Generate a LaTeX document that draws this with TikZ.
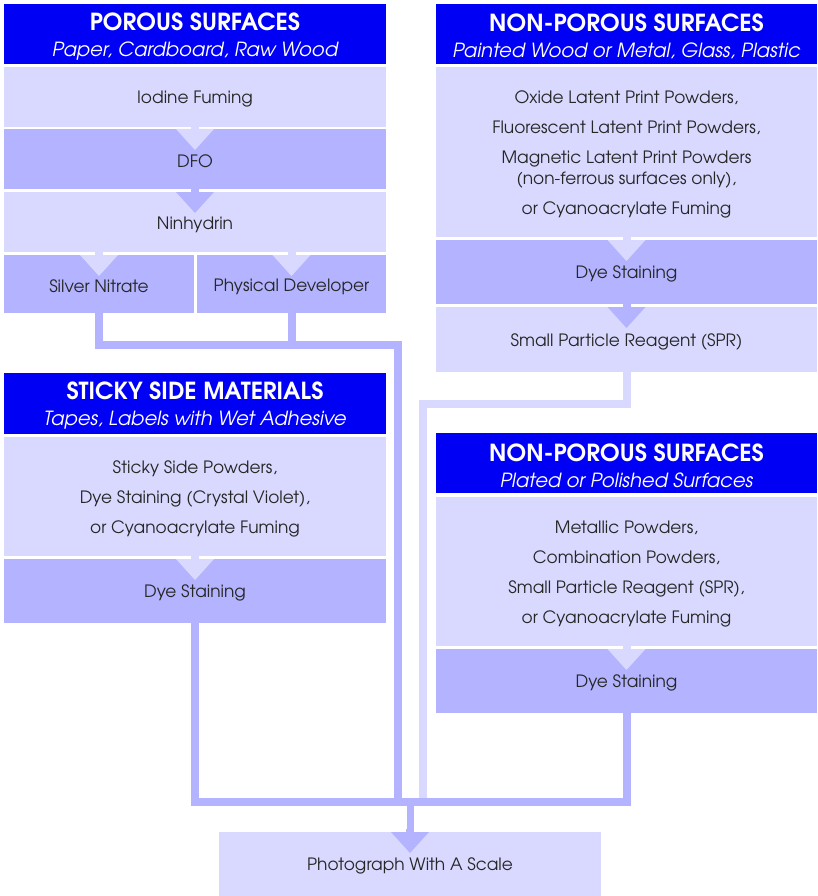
\documentclass[tikz,border=0pt]{standalone}
\usepackage{fontspec}
\setmainfont{TeX Gyre Adventor}

\definecolor{hdrblue}{RGB}{0,0,245}
\definecolor{boxlight}{RGB}{217,217,255}
\definecolor{boxdark}{RGB}{179,179,255}

\tikzset{
  box/.style={anchor=north west, inner sep=0pt, outer sep=0pt, align=center,
    text=black!85, font=\fontsize{17}{30}\selectfont},
  hdrbox/.style={box, fill=hdrblue, text=white, minimum width=382pt,
    minimum height=60pt, font=\fontsize{23.5}{26}\selectfont},
  litebox/.style={box, fill=boxlight},
  darkbox/.style={box, fill=boxdark},
  pipe/.style={draw=boxdark, line width=8pt},
  litepipe/.style={draw=boxlight, line width=8pt},
}
% struts that push the first line a little down
\newcommand{\lift}{\rule{0pt}{17.5pt}}
\newcommand{\hlift}{\rule{0pt}{22.5pt}}
\newcommand{\subhdr}[1]{{\fontsize{19.5}{26}\selectfont\itshape #1}}

\begin{document}
\begin{tikzpicture}[x=1pt, y=-1pt]
  \useasboundingbox (0,0) rectangle (817,896);

  % porous column
  \node[hdrbox] (phead) at (4,4) {\hlift\textbf{POROUS SURFACES}\\\subhdr{Paper, Cardboard, Raw Wood}};
  \node[litebox, minimum width=382pt, minimum height=60pt] (iodine) at (4,67) {\lift Iodine Fuming};
  \node[darkbox, minimum width=382pt, minimum height=60pt] (dfo) at (4,129) {\lift DFO};
  \node[litebox, minimum width=382pt, minimum height=60pt] (ninhyd) at (4,192) {\lift Ninhydrin};
  \node[darkbox, minimum width=190pt, minimum height=58pt] (silver) at (4,255) {\lift Silver Nitrate};
  \node[darkbox, minimum width=189pt, minimum height=58pt] (physdev) at (197,255) {\lift Physical Developer};

  % sticky column
  \node[hdrbox, minimum height=61pt] (shead) at (4,373) {\hlift\textbf{STICKY SIDE MATERIALS}\\\subhdr{Tapes, Labels with Wet Adhesive}};
  \node[litebox, minimum width=382pt, minimum height=119pt] (stext) at (4,437)
    {\lift Sticky Side Powders,\\Dye Staining (Crystal Violet),\\or Cyanoacrylate Fuming};
  \node[darkbox, minimum width=382pt, minimum height=64pt] (sdye) at (4,559) {\lift Dye Staining};

  % non-porous column
  \node[hdrbox, minimum width=381pt] (nhead) at (436,4) {\hlift\textbf{NON-POROUS SURFACES}\\\subhdr{Painted Wood or Metal, Glass, Plastic}};
  \node[litebox, minimum width=381pt, minimum height=170pt] (ntext) at (436,67)
    {\lift Oxide Latent Print Powders,\\Fluorescent Latent Print Powders,\\Magnetic Latent Print Powders\\[-9pt](non-ferrous surfaces only),\\or Cyanoacrylate Fuming};
  \node[darkbox, minimum width=381pt, minimum height=64pt] (ndye) at (436,240) {\lift Dye Staining};
  \node[litebox, minimum width=381pt, minimum height=65pt] (spr) at (436,307) {\lift Small Particle Reagent (SPR)};

  % plated column
  \node[hdrbox, minimum width=381pt] (plhead) at (436,433) {\hlift\textbf{NON-POROUS SURFACES}\\\subhdr{Plated or Polished Surfaces}};
  \node[litebox, minimum width=381pt, minimum height=149pt] (pltext) at (436,497)
    {\lift Metallic Powders,\\Combination Powders,\\Small Particle Reagent (SPR),\\or Cyanoacrylate Fuming};
  \node[darkbox, minimum width=381pt, minimum height=64pt] (pldye) at (436,649) {\lift Dye Staining};

  % last step
  \node[litebox, minimum width=382pt, minimum height=64pt] (photo) at (219,832) {\lift Photograph With A Scale};

  % pipes
  \coordinate (pj) at (398,344.5);
  \coordinate (sj) at (423,404);
  \coordinate (bar) at (410,802);
  \draw[litepipe] (spr.south) |- (sj) -- (sj |- bar);
  \draw[pipe] (silver.south) |- (pj) -- (pj |- bar);
  \draw[pipe] (physdev.south) -- (physdev.south |- pj);
  \draw[pipe] (sdye.south) |- (bar) -| (pldye.south);
  \draw[pipe, line width=7pt] (bar) -- (photo.north);

  % step arrows
  \foreach \c/\x/\y in {boxlight/195/129, boxdark/195/192, boxlight/99/255,
      boxlight/291.5/255, boxlight/626.5/240, boxdark/626.5/307,
      boxlight/195/559, boxlight/626.5/649, boxdark/410/832} {
    \fill[\c] ({\x-4},{\y-3}) rectangle ({\x+4},\y);
    \fill[\c] ({\x-19},\y) -- ({\x+19},\y) -- (\x,{\y+21}) -- cycle;
  }
\end{tikzpicture}
\end{document}
